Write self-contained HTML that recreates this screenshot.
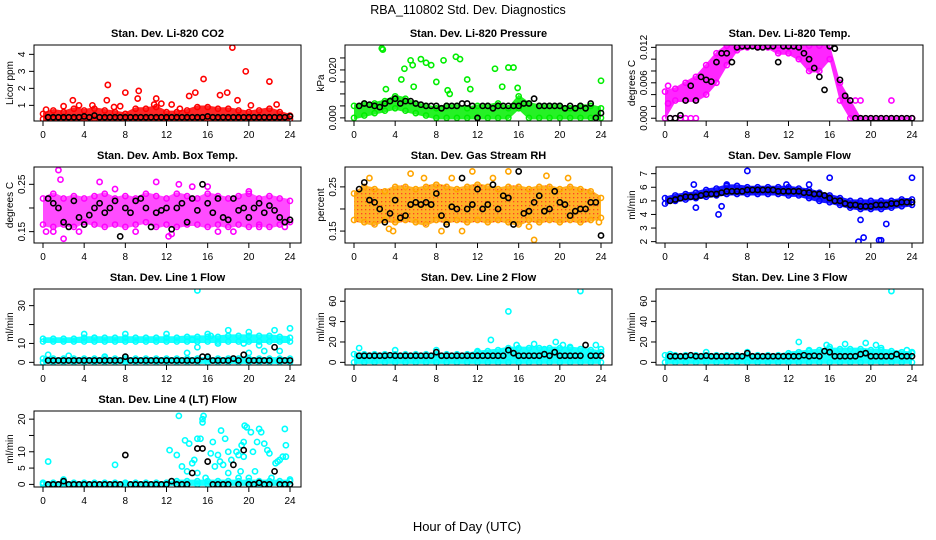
<!DOCTYPE html>
<html><head><meta charset="utf-8"><style>
html,body{margin:0;padding:0;background:#fff;}
svg{display:block;font-family:"Liberation Sans",sans-serif;}
</style></head><body>
<svg id="chart" width="936" height="540" viewBox="0 0 936 540">
<defs>
<pattern id="rhpat" width="4" height="4" patternUnits="userSpaceOnUse"><rect width="4" height="4" fill="#ffa500"/><rect x="1" y="1" width="1.3" height="1.3" fill="#ff2000"/></pattern>
</defs>
<text x="468" y="14" text-anchor="middle" font-size="12.5">RBA_110802  Std. Dev. Diagnostics</text>
<text x="467" y="531" text-anchor="middle" font-size="13">Hour of Day (UTC)</text>
</svg>
<script>
// ---- data (hourly band arrays: value at hour i*24/(n-1); black: value at hour (i+1)*24/n) ----
const co2Low=[0.2,0.2,0.2,0.2,0.2,0.2,0.2,0.2,0.2,0.2,0.2,0.2,0.2,0.2,0.2,0.2,0.2,0.2,0.2,0.2,0.2,0.2,0.2,0.2,0.2];
const co2High=[0.5,0.7,0.6,0.8,0.7,0.8,0.7,0.6,0.5,0.8,0.8,0.9,0.6,0.6,0.7,0.9,0.9,0.8,0.8,0.7,0.6,0.7,0.8,0.6,0.4];
const co2Out=[[0.3,0.75],[2,0.95],[2.9,1.3],[3.5,1],[6.2,1.3],[6.3,2.2],[7.5,0.95],[8,1.75],[9.3,1.85],[9.2,1.4],[11,1.4],[11.5,1.1],[12.5,1.05],[14.2,1.55],[14.8,1.75],[15.6,2.55],[17.2,1.6],[17.9,1.75],[18.4,4.4],[18.9,1.3],[19.7,3],[22,2.4],[22.7,1.05],[20.2,1.0],[13.3,0.8],[10.8,1.05],[4.8,1.0],[6.9,0.9]];
const co2Black=[0.3,0.3,0.3,0.3,0.3,0.3,0.3,0.35,0.3,0.4,0.3,0.3,0.3,0.3,0.3,0.3,0.3,0.3,0.3,0.3,0.3,0.3,0.3,0.3,0.3,0.3,0.3,0.3,0.3,0.3,0.3,0.35,0.3,0.3,0.3,0.3,0.3,0.3,0.3,0.3,0.3,0.3,0.3,0.3,0.3,0.3,0.3,0.35];

const presLow=[0,0.001,0.002,0.003,0.004,0.003,0.002,0.001,0,0,0,0,0,0,0,0,0.004,0,0,0,0,0,0,0,0];
const presHigh=[0.005,0.006,0.006,0.007,0.009,0.008,0.006,0.005,0.004,0.005,0.005,0.004,0.005,0.005,0.006,0.004,0.009,0.006,0.005,0.005,0.005,0.004,0.005,0.005,0.004];
const presOut=[[2.7,0.029],[2.8,0.0285],[3.1,0.012],[4.6,0.016],[4.9,0.0205],[5.5,0.024],[5.7,0.022],[5.8,0.013],[6.5,0.0245],[7,0.023],[7.5,0.022],[8,0.015],[8.7,0.024],[9.1,0.0115],[9.3,0.010],[9.9,0.0255],[10.3,0.0245],[11,0.016],[11.3,0.012],[13.7,0.0205],[14.4,0.013],[15,0.021],[15.5,0.021],[15.9,0.0125],[24,0.0155]];
const presBlack=[0.005,0.006,0.0055,0.005,0.0045,0.006,0.007,0.008,0.006,0.007,0.007,0.006,0.0055,0.005,0.005,0.005,0.004,0.005,0.005,0.005,0.006,0.006,0.005,0.0,0.005,0.005,0.004,0.005,0.005,0.005,0.005,0.005,0.006,0.006,0.008,0.005,0.005,0.005,0.005,0.005,0.004,0.005,0.004,0.005,0.004,0.006,0.0,0.002];

const tempLow=[0,0.003,0.003,0.003,0.004,0.006,0.009,0.0115,0.012,0.012,0.012,0.011,0.011,0.010,0.008,0.008,0.010,0.003,0,0,0,0,0,0,0];
const tempHigh=[0.0045,0.005,0.006,0.007,0.009,0.011,0.0123,0.0123,0.0123,0.0123,0.0123,0.0123,0.0123,0.0123,0.0123,0.0123,0.0123,0.006,0.003,0,0,0,0,0,0];
const tempOut=[[0.3,0.0055],[0.3,0.0025],[0.5,0],[1,0],[1.5,0],[2,0],[2.5,0],[3,0],[22,0.003],[18.5,0.003],[19,0.003]];
const tempBlack=[0,0,0.0005,0.003,0.0055,0.003,0.007,0.0065,0.0062,0.0095,0.011,0.011,0.0095,0.012,0.0122,0.0122,0.0122,0.012,0.012,0.0122,0.0122,0.0095,0.0122,0.0122,0.0122,0.012,0.011,0.010,0.0085,0.007,0.0048,0.0122,0.0118,0.0065,0.0038,0.003,0,0,0,0,0,0,0,0,0,0,0,0];

const ambLow=[0.165,0.16,0.165,0.16,0.17,0.165,0.16,0.165,0.16,0.165,0.17,0.16,0.165,0.16,0.165,0.165,0.16,0.165,0.16,0.165,0.16,0.165,0.16,0.165,0.17];
const ambHigh=[0.22,0.23,0.22,0.225,0.22,0.225,0.23,0.22,0.225,0.22,0.23,0.225,0.22,0.23,0.225,0.22,0.23,0.225,0.22,0.225,0.23,0.22,0.225,0.22,0.215];
const ambOut=[[1.5,0.28],[1.7,0.26],[2,0.135],[5.5,0.255],[11,0.255],[12.2,0.14],[13.2,0.25],[14.5,0.245],[0.3,0.15],[16,0.245],[3.5,0.15],[18.5,0.15],[21,0.16],[23.5,0.16],[1,0.15],[7,0.24],[9,0.15],[12.5,0.145],[17,0.15],[20,0.235]];
const ambBlack=[0.22,0.21,0.2,0.17,0.16,0.215,0.18,0.165,0.185,0.2,0.21,0.19,0.2,0.215,0.14,0.2,0.19,0.215,0.22,0.2,0.16,0.19,0.195,0.2,0.155,0.2,0.21,0.17,0.22,0.195,0.25,0.21,0.19,0.22,0.18,0.175,0.22,0.195,0.2,0.18,0.2,0.21,0.19,0.205,0.195,0.18,0.17,0.175];

const rhLow=[0.175,0.17,0.165,0.175,0.17,0.175,0.17,0.165,0.175,0.17,0.175,0.17,0.175,0.17,0.175,0.17,0.165,0.175,0.17,0.175,0.17,0.175,0.17,0.175,0.18];
const rhHigh=[0.235,0.25,0.245,0.24,0.25,0.25,0.245,0.25,0.255,0.25,0.245,0.25,0.255,0.25,0.245,0.25,0.25,0.245,0.25,0.25,0.245,0.25,0.245,0.24,0.225];
const rhOut=[[1.5,0.27],[3.4,0.155],[3.8,0.15],[5.5,0.28],[6.8,0.27],[8.5,0.15],[10.5,0.15],[11.5,0.285],[13.5,0.27],[15,0.285],[17.5,0.13],[18.7,0.275],[20.8,0.27],[23.8,0.17],[17,0.16],[9.5,0.27]];
const rhBlack=[0.245,0.26,0.22,0.215,0.2,0.17,0.19,0.22,0.18,0.185,0.21,0.215,0.21,0.215,0.21,0.235,0.185,0.165,0.205,0.2,0.27,0.2,0.21,0.245,0.2,0.21,0.255,0.2,0.23,0.225,0.165,0.285,0.19,0.195,0.215,0.23,0.195,0.2,0.24,0.215,0.21,0.185,0.195,0.2,0.2,0.215,0.215,0.14];

const flowLow=[4.8,5.0,5.1,5.2,5.3,5.4,5.5,5.5,5.5,5.5,5.5,5.5,5.4,5.4,5.2,5.0,4.9,4.7,4.5,4.4,4.4,4.4,4.5,4.6,4.7];
const flowHigh=[5.2,5.4,5.5,5.6,5.8,5.9,6.1,6.1,6.0,6.0,6.0,6.0,6.0,5.9,5.8,5.6,5.4,5.2,5.0,5.0,5.0,5.0,5.0,5.1,5.1];
const flowOut=[[2.8,6.2],[3,4.5],[5.2,4],[8,7.2],[16,6.7],[19,3.6],[19.3,2.3],[18.8,2],[20.8,2.1],[21,2.1],[21.5,3.3],[24,6.7],[5.5,4.6],[6,6.2],[11.8,6.2],[14,6.2]];
const flowBlack=[5.0,5.1,5.2,5.3,5.3,5.3,5.4,5.5,5.5,5.5,5.6,5.7,5.7,5.7,5.7,5.8,5.8,5.8,5.8,5.8,5.8,5.7,5.7,5.7,5.7,5.7,5.6,5.6,5.5,5.5,5.4,5.2,5.0,5.0,4.8,4.7,4.7,4.6,4.6,4.6,4.7,4.7,4.7,4.8,4.8,4.9,4.9,4.9];

const l1Low=[11,11,11,11,11,11,11,11,11,11,11,11,11,11,11,11,11,11,11,11,11,11,11,11,11];
const l1High=[12.5,12.5,12.5,12.5,13,13,13,13,13,13,13,13,13,13,13.5,13.5,13.5,13.5,14,14,14,14,14,13.5,13];
const l1Low2=[0,0,0,0,0,0,0,0,0,0,0,0,0,0,0,0,0,0,0,0,0,0,0,0,0];
const l1High2=[2,2,2,2,2,2,2,2,2,2,2,2,2,2,2,2,2,2,2,2,2,2,2,2,2];
const l1Out=[[15,38],[4,15],[8,15],[12,15],[16,15],[18,17],[20,16],[22.5,17],[24,18],[5,13],[17,10],[20,5],[15,8],[14.5,12],[21,9],[0.5,4],[2.5,3.5],[6,3],[16.3,14],[19.5,10],[21.5,6],[23,6],[14,5]];
const l1Black=[1,1,1,1,1,1,1,1,1,1,1,1,1,1,1,3,1,1,1,1,1,1,1,1,1,1,1,1,1,1,3,3,1,1,1,1,2,1,4,1,1,1,1,1,8,1,1,1];

const l2Low=[0,0,0,0,0,0,0,0,0,0,0,0,0,0,0,0,0,0,0,0,0,0,0,0,0];
const l2High=[8,8,8,8,8,8,8,8,8,8,8,8,10,11,12,14,14,14,14,14,14,14,13,12,10];
const l2Out=[[15,50],[22,70],[13.3,22],[0.5,14],[19.6,20],[17.5,18],[20.3,17],[23.5,17],[24,13],[12,11],[8,12],[4,12],[15.8,17],[18.5,13],[21,15]];
const l2Black=[6.5,6.5,6.5,6.5,6.5,6.5,7,6.5,6.5,6.5,6.5,6.5,6.5,6.5,6.5,10,6.5,6.5,6.5,6.5,6.5,6.5,6.5,6.5,6.5,6.5,6.5,6.5,6.5,12,9,6.5,6.5,6.5,6.5,6.5,8,6.5,10,6.5,6.5,6.5,6.5,6.5,17,6.5,6.5,6.5];

const l3Low=[0,0,0,0,0,0,0,0,0,0,0,0,0,0,0,0,0,0,0,0,0,0,0,0,0];
const l3High=[7,7,7,7,7,7,7,7,7,7,7,7,9,10,11,12,13,13,13,13,12,12,11,10,9];
const l3Out=[[22,70],[13,20],[17.5,18],[19.5,19],[20.5,17],[15.7,17],[4,10],[14,12],[16,15],[21,14],[23.5,12],[24,10],[8,10],[0.5,8]];
const l3Black=[6,6,6,6,7,6,6,6.5,6,6,6,6,6,6,6,9,6,6,6,6,6,6,6,6,6,6,7,6,6.5,6,11,10,6,6,6,6,6,8,9,6,6,6,6,6,8,6,6,6];

const l4Low=[0,0,0,0,0,0,0,0,0,0,0,0,0,0,0,0,0,0,0,0,0,0,0,0,0];
const l4High=[0.5,0.5,0.5,0.5,0.5,0.5,0.5,0.5,0.5,0.5,0.5,0.5,0.5,1,1,1,1,1,1,1,1,1,1,1,1];
const l4Out=[[0.5,7],[7,6],[12.3,10.5],[13.2,21],[13,9],[13.5,5.5],[13.8,13.5],[14.2,12.5],[14,4],[14.5,6.5],[15,14],[15.3,14],[15.5,20],[15.5,19],[15.6,21],[15.8,2],[16.3,9.5],[16.5,13],[16.7,5.5],[17,9],[17.2,7],[17.3,16.5],[17.5,6],[17.7,14],[18,3.5],[18,10],[18.3,7.5],[18.8,10],[19,9],[19.3,12],[19.5,13],[19.5,8.5],[19.6,18],[19.8,17.5],[19.2,4],[19,2],[20,2],[20.2,16],[20.4,10],[20.6,4],[20.8,13],[21,17],[21.2,16],[21.5,12.5],[21.8,10.5],[22,9.5],[22.2,2],[22.8,7],[23,7.5],[23.3,8.5],[23.6,8.5],[23.5,17],[23.6,12],[24,1.5],[22.6,6.5],[15,3.5],[14.7,7.5],[2,1.5]];
const l4Black=[0,0,0,1,0,0,0,0,0,0,0,0,0,0,0,9,0,0,0,0,0,0,0,0,1,0,0,0,3.5,11,11,7,0,0,0,0,6,0,10.5,0,0,0.5,0,0,4,0,0,0];

const titles=["Stan. Dev. Li-820 CO2","Stan. Dev. Li-820 Pressure","Stan. Dev. Li-820 Temp.","Stan. Dev. Amb. Box Temp.","Stan. Dev. Gas Stream RH","Stan. Dev. Sample Flow","Stan. Dev. Line 1 Flow","Stan. Dev. Line 2 Flow","Stan. Dev. Line 3 Flow","Stan. Dev. Line 4 (LT) Flow"];
const xTicks=[0,4,8,12,16,20,24];

const NS="http://www.w3.org/2000/svg";
const svg=document.getElementById('chart');
function mk(tag,attrs,parent){const e=document.createElementNS(NS,tag);for(const k in attrs)e.setAttribute(k,attrs[k]);(parent||svg).appendChild(e);return e;}

const panels=[
 {t:0,yl:"Licor ppm",y0:0.08,y1:4.55,ticks:[1,2,3,4],labels:[1,2,3,4],fmt:v=>String(v),col:"#ff0000",op:0.85,bands:[[co2Low,co2High]],out:co2Out,black:co2Black},
 {t:1,yl:"kPa",y0:-0.0013,y1:0.0304,ticks:[0,0.005,0.01,0.015,0.02,0.025],labels:[0,0.02],fmt:v=>v.toFixed(3),col:"#00ee00",op:0.85,bands:[[presLow,presHigh]],out:presOut,black:presBlack},
 {t:2,yl:"degrees C",y0:-0.00047,y1:0.0124,ticks:[0,0.002,0.004,0.006,0.008,0.01,0.012],labels:[0,0.006,0.012],fmt:v=>v.toFixed(3),col:"#ff00ff",op:0.85,bands:[[tempLow,tempHigh]],out:tempOut,black:tempBlack},
 {t:3,yl:"degrees C",y0:0.126,y1:0.2866,ticks:[0.15,0.2,0.25],labels:[0.15,0.25],fmt:v=>v.toFixed(2),col:"#ff00ff",op:0.7,bands:[[ambLow,ambHigh]],out:ambOut,black:ambBlack},
 {t:4,yl:"percent",y0:0.123,y1:0.295,ticks:[0.15,0.2,0.25],labels:[0.15,0.25],fmt:v=>v.toFixed(2),col:"#ffa500",fill:"url(#rhpat)",op:0.85,bands:[[rhLow,rhHigh]],out:rhOut,black:rhBlack},
 {t:5,yl:"ml/min",y0:1.9,y1:7.49,ticks:[2,3,4,5,6,7],labels:[2,3,4,5,6,7],fmt:v=>String(v),col:"#0000ff",op:0.9,bands:[[flowLow,flowHigh]],out:flowOut,black:flowBlack},
 {t:6,yl:"ml/min",y0:-1.4,y1:38.8,ticks:[0,10,20,30],labels:[0,10,30],fmt:v=>String(v),col:"#00ffff",op:0.9,bands:[[l1Low,l1High],[l1Low2,l1High2]],out:l1Out,black:l1Black},
 {t:7,yl:"ml/min",y0:-2.6,y1:72,ticks:[0,20,40,60],labels:[0,20,40,60],fmt:v=>String(v),col:"#00ffff",op:0.9,bands:[[l2Low,l2High]],out:l2Out,black:l2Black},
 {t:8,yl:"ml/min",y0:-2.6,y1:72,ticks:[0,20,40,60],labels:[0,20,40,60],fmt:v=>String(v),col:"#00ffff",op:0.9,bands:[[l3Low,l3High]],out:l3Out,black:l3Black},
 {t:9,yl:"ml/min",y0:-0.8,y1:22.5,ticks:[0,5,10,15,20],labels:[0,5,10,20],fmt:v=>String(v),col:"#00ffff",op:0.9,bands:[[l4Low,l4High]],out:l4Out,black:l4Black}
];

panels.forEach((p,idx)=>{
  const col=idx%3,row=Math.floor(idx/3);
  const L=34+col*311,R=L+267,T=45+row*122,B=T+76;
  const xs=h=>43+col*311+h*(247/24);
  const ys=v=>B-(v-p.y0)/(p.y1-p.y0)*(B-T);
  const g=mk('g',{});
  
  
  const ttl=mk('text',{x:(L+R)/2,y:T-8,'text-anchor':'middle','font-size':11,'font-weight':'bold'},g);
  ttl.textContent=titles[p.t];
  
  
  const clip='c'+idx;
  const cp=mk('clipPath',{id:clip},g);mk('rect',{x:L,y:T,width:R-L,height:B-T},cp);
  const data=mk('g',{'clip-path':'url(#'+clip+')'},g);
  p.bands.forEach(([lo,hi])=>{
    const n=lo.length;let pts=[];
    for(let i=0;i<n;i++)pts.push(xs(i*24/(n-1))+','+(ys(hi[i])-1.5));
    for(let i=n-1;i>=0;i--)pts.push(xs(i*24/(n-1))+','+(ys(lo[i])+1.5));
    const poly=mk('polygon',{points:pts.join(' '),fill:p.fill||p.col,'fill-opacity':p.op,stroke:'none'},data);
    
    
    for(let i=0;i<n;i++){[lo[i],hi[i]].forEach(v=>{
      const c=mk('circle',{cx:xs(i*24/(n-1)),cy:ys(v),r:2.6,fill:'none',stroke:p.col,'stroke-width':1.5},data);
      
      
    });}
  });
  p.out.forEach(([h,v])=>{
    const c=mk('circle',{cx:xs(h),cy:ys(v),r:2.6,fill:'none',stroke:p.col,'stroke-width':1.6},data);
    
    
  });
  const nb=p.black.length;
  p.black.forEach((v,i)=>{
    const c=mk('circle',{cx:xs((i+1)*24/nb),cy:ys(v),r:2.6,fill:'none',stroke:'#000','stroke-width':1.6},data);
    
    
  });
  const box=mk('rect',{x:L,y:T,width:R-L,height:B-T,fill:'none',stroke:'#000','stroke-width':1},g);
  
  
  xTicks.forEach(h=>{
    mk('line',{x1:xs(h),x2:xs(h),y1:B,y2:B+5,stroke:'#000'},g);
    const t=mk('text',{x:xs(h),y:B+17,'text-anchor':'middle','font-size':10},g);
    t.textContent=h;
    
    
  });
  p.ticks.forEach(v=>{
    mk('line',{x1:L-5,x2:L,y1:ys(v),y2:ys(v),stroke:'#000'},g);
  });
  p.labels.forEach(v=>{
    const t=mk('text',{x:0,y:0,'text-anchor':'middle','font-size':10,transform:`translate(${L-9},${ys(v)}) rotate(-90)`},g);
    t.textContent=p.fmt(v);
    
    
  });
  const yl=mk('text',{x:0,y:0,'text-anchor':'middle','font-size':10,transform:`translate(${L-21},${(T+B)/2}) rotate(-90)`},g);
  yl.textContent=p.yl;
  
  
});
</script>
</body></html>
